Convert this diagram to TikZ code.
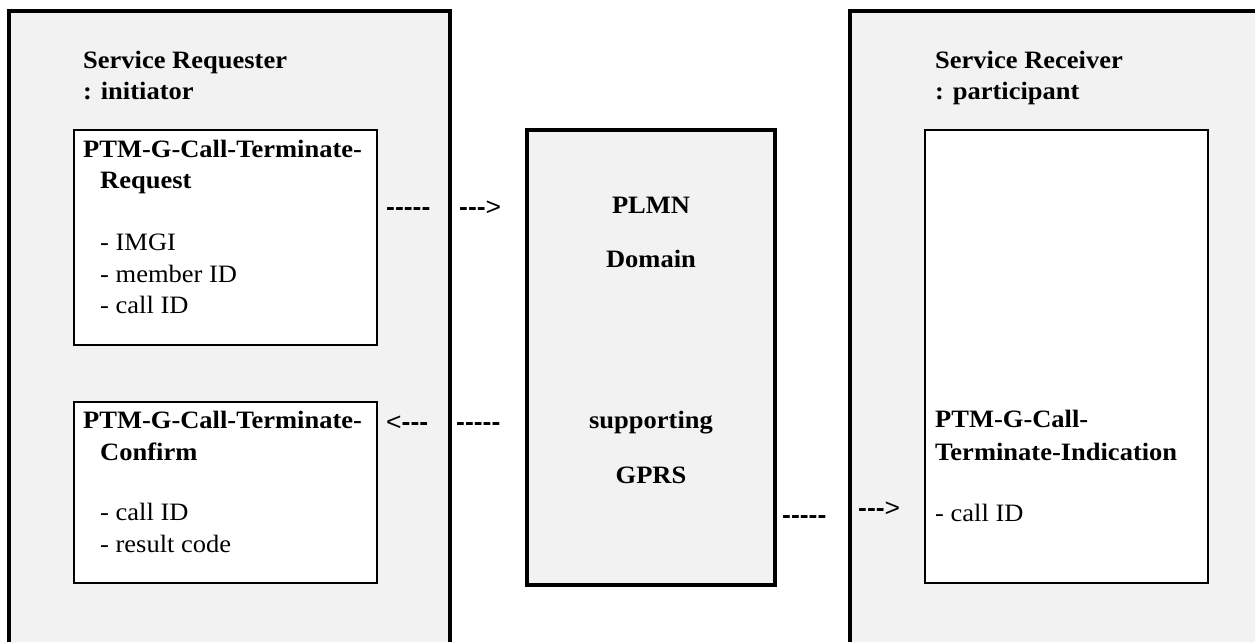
\documentclass[tikz,border=0pt]{standalone}
\usepackage{fontspec}
\setmainfont{Liberation Serif}[FakeStretch=1.06]
\newfontfamily\dashfont{Liberation Sans}[FakeStretch=1.06]
\definecolor{boxgray}{HTML}{F2F2F2}
\newcommand\hy{-\kern0pt}
\newcommand\gtr{{\mdseries>}}
\newcommand\lss{{\mdseries<}}
\tikzset{
  outerbox/.style={draw, line width=4pt, fill=boxgray, anchor=north west, inner sep=0pt, outer sep=0pt},
  innerbox/.style={draw, line width=2pt, fill=white, anchor=north west, inner sep=0pt, outer sep=0pt},
  midbox/.style={draw, line width=4pt, fill=boxgray, anchor=north west, inner sep=0pt, outer sep=0pt},
  lbl/.style={anchor=base west, inner sep=0pt, font=\fontsize{25}{31}\selectfont\bfseries},
  ctrlbl/.style={anchor=base, inner sep=0pt, font=\fontsize{25}{31}\selectfont\bfseries},
  itemtxt/.style={anchor=base west, inner sep=0pt, font=\fontsize{25}{31}\selectfont},
  dashtxt/.style={anchor=base west, inner sep=0pt, font=\dashfont\fontsize{25}{31}\selectfont\bfseries},
}
\begin{document}
\begin{tikzpicture}[x=1pt,y=-1pt]
\fill[white] (0,0) rectangle (1255,641);
\useasboundingbox (0,0) rectangle (1255,641);
\clip (0,0) rectangle (1255,641);

% outer boxes (cut off at the bottom / right)
\node[outerbox, minimum width=441pt, minimum height=700pt] (reqside) at (9,11) {};
\node[outerbox, minimum width=500pt, minimum height=700pt] (recside) at (850,11) {};

% left side
\node[lbl] (srq1) at (83,68) {Service Requester};
\node[lbl] (srq2) at (83,99) {: initiator};

\node[innerbox, minimum width=303pt, minimum height=215pt] (reqbox) at (74,130) {};
\node[lbl] (rq1) at (83,157) {PTM-G-Call-Terminate-};
\node[lbl] (rq2) at (100,188) {Request};
\node[itemtxt] (rq3) at (100,250) {- IMGI};
\node[itemtxt] (rq4) at (100,282) {- member ID};
\node[itemtxt] (rq5) at (100,313) {- call ID};

\node[innerbox, minimum width=303pt, minimum height=181pt] (cnfbox) at (74,402) {};
\node[lbl] (cf1) at (83,428) {PTM-G-Call-Terminate-};
\node[lbl] (cf2) at (100,460) {Confirm};
\node[itemtxt] (cf3) at (100,520) {- call ID};
\node[itemtxt] (cf4) at (100,552) {- result code};

% middle
\node[midbox, minimum width=248pt, minimum height=455pt] (plmn) at (527,130) {};
\node[ctrlbl] (pl1) at (651,213) {PLMN};
\node[ctrlbl] (pl2) at (651,267) {Domain};
\node[ctrlbl] (pl3) at (651,428) {supporting};
\node[ctrlbl] (pl4) at (651,483) {GPRS};

% right side
\node[lbl] (srv1) at (935,68) {Service Receiver};
\node[lbl] (srv2) at (935,99) {: participant};

\node[innerbox, minimum width=283pt, minimum height=453pt] (indbox) at (925,130) {};
\node[lbl] (in1) at (935,427) {PTM-G-Call-};
\node[lbl] (in2) at (935,460) {Terminate-Indication};
\node[itemtxt] (in3) at (935,521) {- call ID};

% dashed text arrows
\node[dashtxt] (d1) at (386,215) {\hy\hy\hy\hy\hy};
\node[dashtxt] (d2) at (459,215) {\hy\hy\hy\gtr};
\node[dashtxt] (d3) at (386,430) {\lss\hy\hy\hy};
\node[dashtxt] (d4) at (456,430) {\hy\hy\hy\hy\hy};
\node[dashtxt] (d5) at (782,523) {\hy\hy\hy\hy\hy};
\node[dashtxt] (d6) at (858,516) {\hy\hy\hy\gtr};
\end{tikzpicture}
\end{document}
